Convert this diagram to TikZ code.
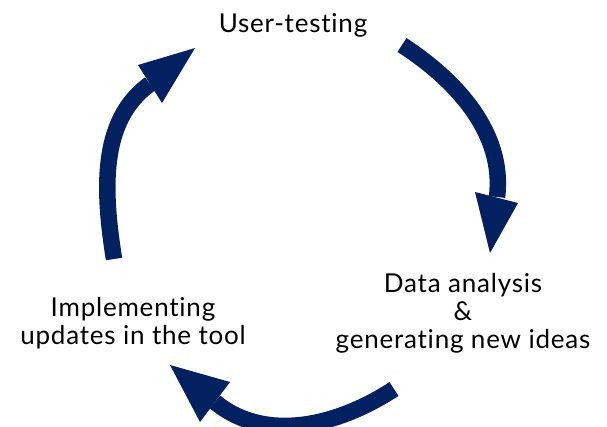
\documentclass[tikz,border=0pt]{standalone}
\usepackage{fontspec}
\setmainfont{Lato}[Ligatures={NoCommon},LetterSpace=3]
\definecolor{navy}{RGB}{3,33,96}
\begin{document}
\begin{tikzpicture}[x=1pt,y=-1pt,
  shaft/.style={draw=navy,line width=16.5pt},
  head/.style={fill=navy},
  label/.style={font=\fontsize{26}{28}\selectfont,align=center,inner sep=0pt,text=black}]
\useasboundingbox (0,0) rectangle (607,426);
\clip (0,0) rectangle (607,426);

% stage labels
\node[label,anchor=base] (test) at (293,32) {User-testing};
\node[label] (data) at (463,313) {Data analysis\\\&\\generating new ideas};
\node[label] (impl) at (133,323) {Implementing\\updates in the tool};

% arrow: testing -> analysis
\coordinate (a1) at (402,45);
\coordinate (b1) at (497,197);
\draw[shaft] (a1) .. controls (456,80) and (505,133) .. (b1);
\fill[head] (475,192) -- (490,253) -- (518,203) -- cycle;

% arrow: analysis -> implementation
\coordinate (a2) at (394,389);
\coordinate (b2) at (215,402);
\draw[shaft] (a2) .. controls (339,425) and (266,444) .. (b2);
\fill[head] (230,382) -- (170,365) -- (200,422) -- cycle;

% arrow: implementation -> testing
\coordinate (a3) at (114,259);
\coordinate (b3) at (150,84);
\draw[shaft] (a3) .. controls (104,195) and (98,121) .. (b3);
\fill[head] (138,65) -- (195,48) -- (162,103) -- cycle;
\end{tikzpicture}
\end{document}
